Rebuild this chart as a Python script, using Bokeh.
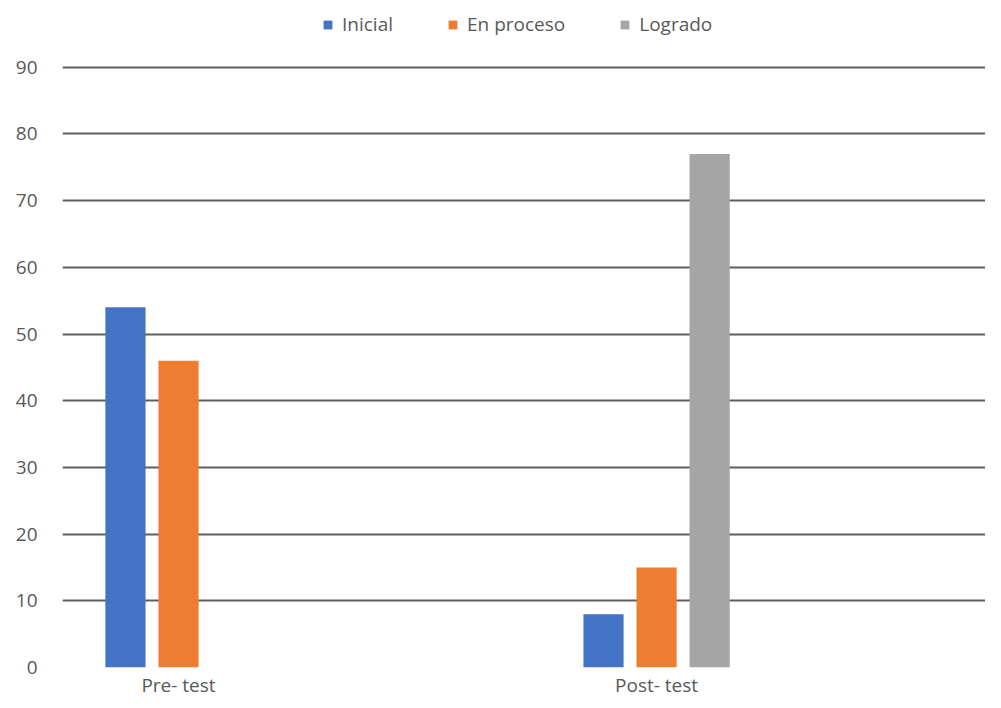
from bokeh.plotting import figure
from bokeh.models import Legend, LegendItem, FixedTicker, Range1d
from bokeh.embed import file_html
from bokeh.resources import INLINE

categories = ["Pre- test", "Post- test"]
series_names = ["Inicial", "En proceso", "Logrado"]
inicial = [54, 8]
en_proceso = [46, 15]
logrado = [0, 77]
y_ticks = [0, 10, 20, 30, 40, 50, 60, 70, 80, 90]

colors = ["#4472C4", "#ED7D31", "#A5A5A5"]
series = [inicial, en_proceso, logrado]
offsets = [-0.111, 0.0, 0.111]
bar_w = 0.084

FONT = "Open Sans"
TXT = "#595959"
FS = "19px"

p = figure(width=985, height=700, output_backend="svg", toolbar_location=None,
           x_range=Range1d(-0.2427, 1.688), y_range=Range1d(0, 100.0),
           min_border_left=62, min_border_right=0, min_border_top=0,
           min_border_bottom=31)
p.outline_line_color = None
p.background_fill_color = "white"
p.border_fill_color = "white"

xs = list(range(len(categories)))
renderers = []
for name, vals, col, off in zip(series_names, series, colors, offsets):
    r = p.vbar(x=[x + off for x in xs], top=vals, width=bar_w, bottom=0,
               fill_color=col, line_color=None)
    renderers.append((name, r))

p.xgrid.grid_line_color = None
p.ygrid.grid_line_color = "#5E5E5E"
p.ygrid.grid_line_width = 2
p.yaxis.ticker = FixedTicker(ticks=y_ticks)
p.xaxis.ticker = FixedTicker(ticks=xs)
p.xaxis.major_label_overrides = {i: c for i, c in enumerate(categories)}

for ax in (p.xaxis[0], p.yaxis[0]):
    ax.axis_line_color = None
    ax.major_tick_line_color = None
    ax.minor_tick_line_color = None
    ax.major_tick_out = 0
    ax.major_tick_in = 0
    ax.minor_tick_out = 0
    ax.minor_tick_in = 0
    ax.major_label_text_font = FONT
    ax.major_label_text_font_size = FS
    ax.major_label_text_color = TXT
p.yaxis.major_label_standoff = 25
p.xaxis.major_label_standoff = 4

legend = Legend(items=[LegendItem(label=n, renderers=[r]) for n, r in renderers],
                orientation="horizontal", location=(260, 630),
                glyph_width=11, glyph_height=11, label_standoff=9, spacing=54,
                padding=0, margin=0, border_line_color=None,
                background_fill_alpha=0,
                label_text_font=FONT, label_text_font_size=FS,
                label_text_color=TXT)
p.add_layout(legend, "center")

open("out.html", "w").write(file_html(p, INLINE))
